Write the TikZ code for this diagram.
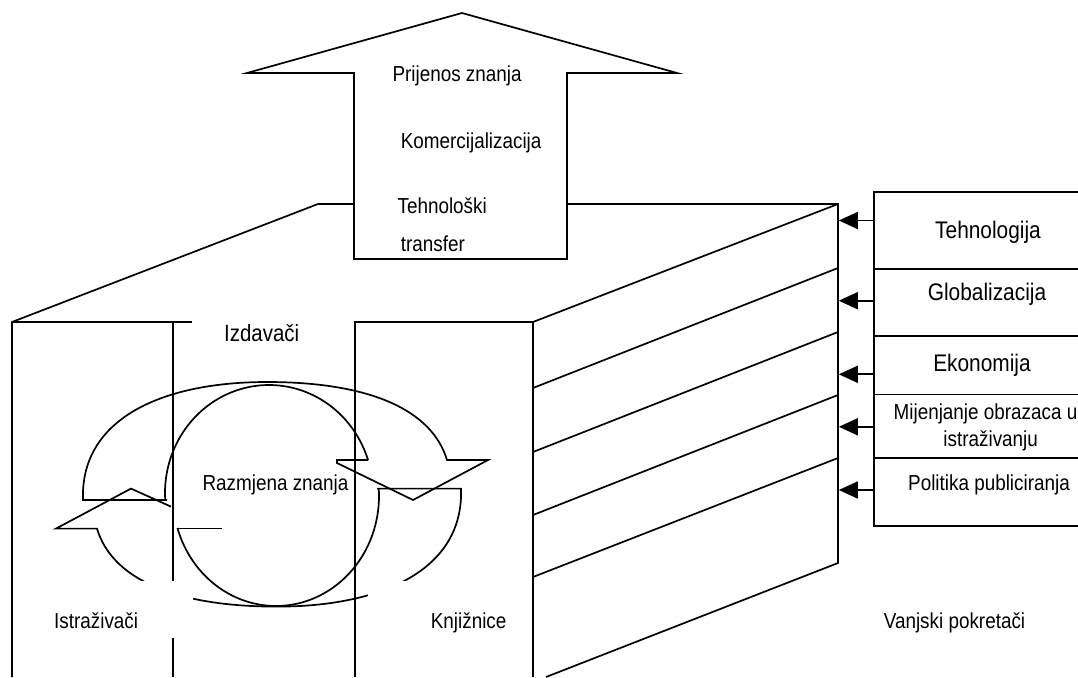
\documentclass[tikz,border=0pt]{standalone}
\usepackage{fontspec}
\setmainfont{Liberation Sans}[FakeStretch=0.87]
\usetikzlibrary{arrows.meta}
\begin{document}
\begin{tikzpicture}[x=1pt,y=-1pt, line width=1.7pt, line join=miter,
  lbl/.style={inner sep=0pt, anchor=base west, font=\fontsize{21.7}{26}\selectfont},
  rlbl/.style={inner sep=0pt, anchor=base, font=\fontsize{21.7}{26}\selectfont},
  bigl/.style={inner sep=0pt, anchor=base, font=\fontsize{24}{28}\selectfont},
  pusher/.style={-{Triangle[length=19pt,width=17pt]}, line width=1.7pt},
  mask/.style={fill=white, draw=none}]
\useasboundingbox (0,0) rectangle (1078,677);
\clip (0,0) rectangle (1078,677);
% top arrow
\draw (354,259) -- (354,73) -- (247,73) -- (462,13) -- (677,73) -- (567,73) -- (567,259) -- cycle;
% roof and house
\draw (354,204) -- (318,204) -- (12,322) -- (12,677);
\draw (12,322) -- (192,322);
\draw (173,322) -- (173,677);
\draw (355,677) -- (355,322) -- (533,322);
\draw (567,204) -- (838,204) -- (838,563) -- (546,677);
\draw (533,677) -- (533,322) -- (838,204);
\draw (533,388) -- (838,268);
\draw (533,452) -- (838,332);
\draw (533,515) -- (838,395);
\draw (533,577) -- (838,458);
% external drivers box
\draw (1090,192) -- (874,192) -- (874,526) -- (1090,526);
\draw (874,269) -- (1090,269);
\draw (874,336) -- (1090,336);
\draw (874,394.4) -- (1090,394.4);
\draw (874,458) -- (1090,458);
\foreach \n/\yy in {a/220.5,b/300.7,c/374.3,d/426.8,e/490}{
  \coordinate (src\n) at (874,\yy);
  \coordinate (dst\n) at (838.8,\yy);
  \draw[pusher] (src\n) -- (dst\n);
}
% upper cycle arrow
\draw (167,500) -- (83,500) .. controls (80,420) and (160,382) .. (267,382)
      .. controls (370,382) and (432,410) .. (447,460) -- (488,460) -- (413,500) -- (337,463) -- (337,460) -- (368,460);
\draw plot[domain=176.3:342.2, samples=60, smooth] ({269+104*cos(\x)},{493+108*sin(\x)});
% lower cycle arrow
\draw (377,488.6) -- (461,488.6) .. controls (464,568.6) and (384,606.6) .. (277,606.6)
      .. controls (174,606.6) and (112,578.6) .. (97,528.6) -- (56,528.6) -- (131,488.6) -- (171,506.6);
\draw (177,528.6) -- (222,528.6);
\draw plot[domain=-3.6:163.1, samples=60, smooth] ({276+103*cos(\x)},{496+110*sin(\x)});
% masks behind labels
\fill[mask] (174.4,457) rectangle (330,506);
\fill[mask] (45,581) rectangle (193,638);
\fill[mask] (368,581) rectangle (505,638);
% labels
\node[lbl] (pz) at (391.7,81.5) {Prijenos znanja};
\node[lbl] (kom) at (400,148.3) {Komercijalizacija};
\node[lbl] (teh) at (396.7,213) {Tehnološki};
\node[lbl] (tra) at (400,251.7) {transfer};
\node[lbl, font=\fontsize{23.5}{28}\selectfont] (izd) at (223.3,341) {Izdavači};
\node[lbl] (raz) at (201.7,490) {Razmjena znanja};
\node[lbl] (ist) at (53.3,628.3) {Istraživači};
\node[lbl] (knj) at (430,628.3) {Knjižnice};
\node[lbl] (van) at (883,628) {Vanjski pokretači};
\node[bigl] (t1) at (988,238.9) {Tehnologija};
\node[bigl] (t2) at (987,300.7) {Globalizacija};
\node[bigl] (t3) at (982,371) {Ekonomija};
\node[rlbl] (t4) at (985.5,419.5) {Mijenjanje obrazaca u};
\node[rlbl] (t4b) at (990.7,446) {istraživanju};
\node[rlbl] (t5) at (989,490) {Politika publiciranja};
\end{tikzpicture}
\end{document}
